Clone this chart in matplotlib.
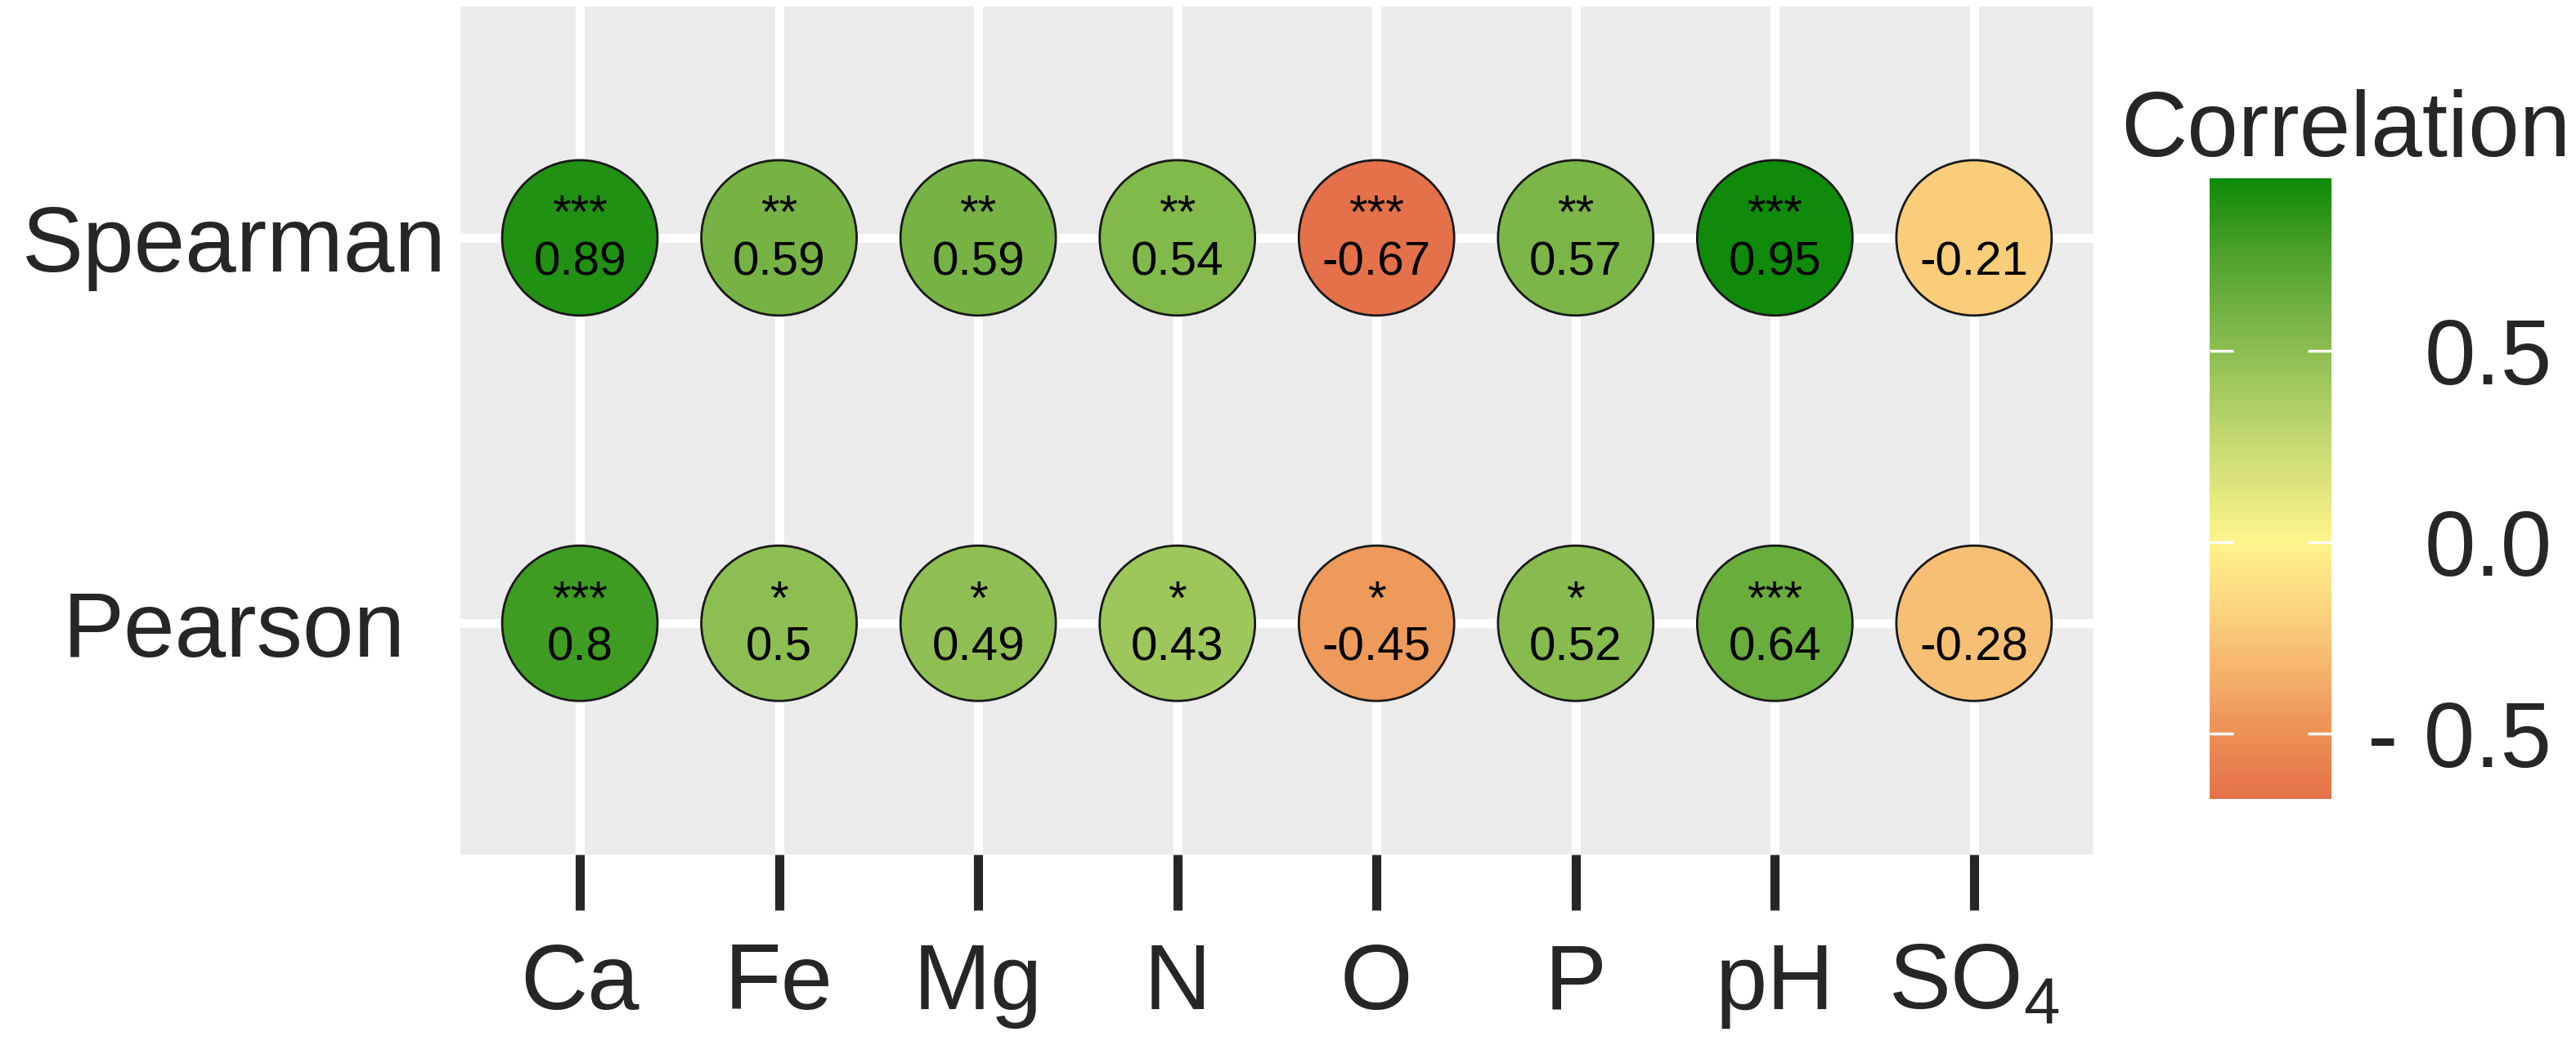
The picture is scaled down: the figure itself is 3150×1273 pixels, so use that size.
import matplotlib
matplotlib.use('Agg')
import matplotlib.pyplot as plt
import numpy as np
from matplotlib.colors import LinearSegmentedColormap, Normalize

plt.rcParams['font.family'] = ['Liberation Sans', 'DejaVu Sans']
plt.rcParams['mathtext.fontset'] = 'custom'
plt.rcParams['mathtext.rm'] = 'Liberation Sans'

# data
variables = ['Ca', 'Fe', 'Mg', 'N', 'O', 'P', 'pH', 'SO4']
var_labels = ['Ca', 'Fe', 'Mg', 'N', 'O', 'P', 'pH', r'$\mathregular{SO_4}$']
methods = ['Pearson', 'Spearman']

spearman_r = [0.89, 0.59, 0.59, 0.54, -0.67, 0.57, 0.95, -0.21]
spearman_sig = ['***', '**', '**', '**', '***', '**', '***', '']
pearson_r = [0.8, 0.5, 0.49, 0.43, -0.45, 0.52, 0.64, -0.28]
pearson_sig = ['***', '*', '*', '*', '*', '*', '***', '']

cbar_ticks = [-0.5, 0.0, 0.5]
cbar_ticklabels = ['- 0.5', '0.0', '0.5']

# colour scale
cb_vals = [-0.67, -0.5, -0.25, 0.0, 0.25, 0.5, 0.75, 0.95]
cb_cols = ['#E4714A', '#EC9055', '#F8C677', '#FFF48C', '#C6DB72', '#8DBE52', '#4FA22C', '#0F8A0A']
vmin, vmax = min(cb_vals), max(cb_vals)
cmap = LinearSegmentedColormap.from_list(
    'corr', [((v - vmin) / (vmax - vmin), c) for v, c in zip(cb_vals, cb_cols)])
norm = Normalize(vmin=vmin, vmax=vmax)

text_col = '#262626'

fig = plt.figure(figsize=(31.5, 12.73), dpi=100)
ax = fig.add_axes([0.1787, 0.1791, 0.634, 0.8146])
ax.set_facecolor('#EBEBEB')
for s in ax.spines.values():
    s.set_visible(False)

x = np.arange(1, len(variables) + 1)
rows = [(1, pearson_r, pearson_sig), (2, spearman_r, spearman_sig)]

for yv, vals, sig in rows:
    ax.scatter(x, [yv] * len(x), c=vals, cmap=cmap, norm=norm, s=18700,
               edgecolors='#1a1a1a', linewidths=2, zorder=3)
    for xi, v, st in zip(x, vals, sig):
        label = f'{st}\n{v:g}' if st else f'{v:g}'
        # bottom of text box = last baseline minus descent
        ax.annotate(label, xy=(xi, yv), xytext=(0, -41.3), textcoords='offset points',
                    ha='center', va='bottom', multialignment='center', linespacing=1.07,
                    fontsize=42, color='black', zorder=4)

ax.set_xlim(0.4, len(variables) + 0.6)
ax.set_ylim(0.4, 2.6)
ax.set_xticks(x)
ax.set_xticklabels(var_labels, fontsize=82, color=text_col)
ax.set_yticks([1, 2])
ax.set_yticklabels(methods, fontsize=81, color=text_col)
for lab in ax.get_yticklabels():
    lab.set_horizontalalignment('center')
ax.tick_params(axis='x', length=49, width=8, color=text_col, pad=28)
ax.tick_params(axis='y', length=0, pad=199)
ax.grid(True, color='white', linewidth=8)
ax.set_axisbelow(True)

# colour bar
cax = fig.add_axes([0.8578, 0.2325, 0.0473, 0.5962])
sm = plt.cm.ScalarMappable(norm=norm, cmap=cmap)
cbar = fig.colorbar(sm, cax=cax)
cbar.outline.set_visible(False)
cbar.set_ticks(cbar_ticks)
cbar.set_ticklabels(cbar_ticklabels)
cax.tick_params(direction='in', length=21, width=2.5, color='white', left=True, right=True,
                labelsize=81, labelcolor=text_col, pad=194)
for lab in cax.get_yticklabels():
    lab.set_horizontalalignment('right')

fig.text(0.8232, 0.85, 'Correlation', fontsize=81, color=text_col, ha='left', va='baseline')

fig.savefig('out.png', dpi=100, facecolor='white')
